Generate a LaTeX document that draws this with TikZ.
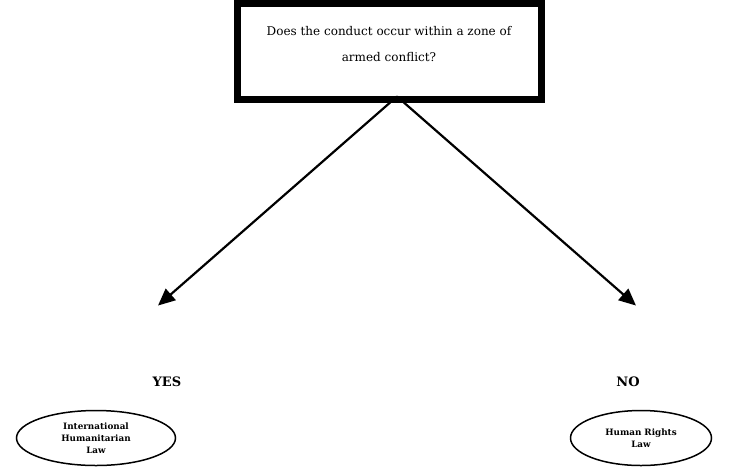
\documentclass[tikz,border=0pt]{standalone}
\usepackage{fontspec}
\setmainfont{DejaVu Serif}
\usetikzlibrary{shapes.geometric}
\usetikzlibrary{positioning}
\usetikzlibrary{arrows.meta}

\begin{document}
\begin{tikzpicture}[x=1pt,y=1pt,>={Triangle[length=17pt,width=15pt]},
	question node/.style={rectangle,draw,line width=7pt,minimum width=304pt,
		minimum height=96pt,align=center,text depth=14pt,
		font=\fontsize{12}{26}\selectfont},
	answer node/.style={font=\bfseries\fontsize{13}{15}\selectfont},
	law node/.style={ellipse,draw,line width=1.5pt,align=center,inner sep=0pt,
		minimum height=55pt,font=\bfseries\fontsize{8.8}{12}\selectfont}]
	
	\useasboundingbox (0,0) rectangle (746,-466);
	
	\node[question node] (q) at (389,-51)
		{Does the conduct occur within a zone of\\armed conflict?};
	\node[answer node] (yes) at (167,-382) {YES};
	\node[answer node] (no) at (628,-382) {NO};
	\node[law node,minimum width=159pt] (ihl) at (96,-438)
		{International\\Humanitarian\\Law};
	\node[law node,minimum width=141pt] (hrl) at (641,-438)
		{Human Rights\\Law};
	
	\coordinate (apex) at ([xshift=8pt,yshift=6pt]q.south);
	\coordinate[above=68pt of yes.north,xshift=-9pt] (yes tip);
	\coordinate[above=68pt of no.north,xshift=8pt] (no tip);
	
	\path[->,line width=2.2pt]
	(apex) edge (yes tip)
	(apex) edge (no tip);
\end{tikzpicture}
\end{document}
